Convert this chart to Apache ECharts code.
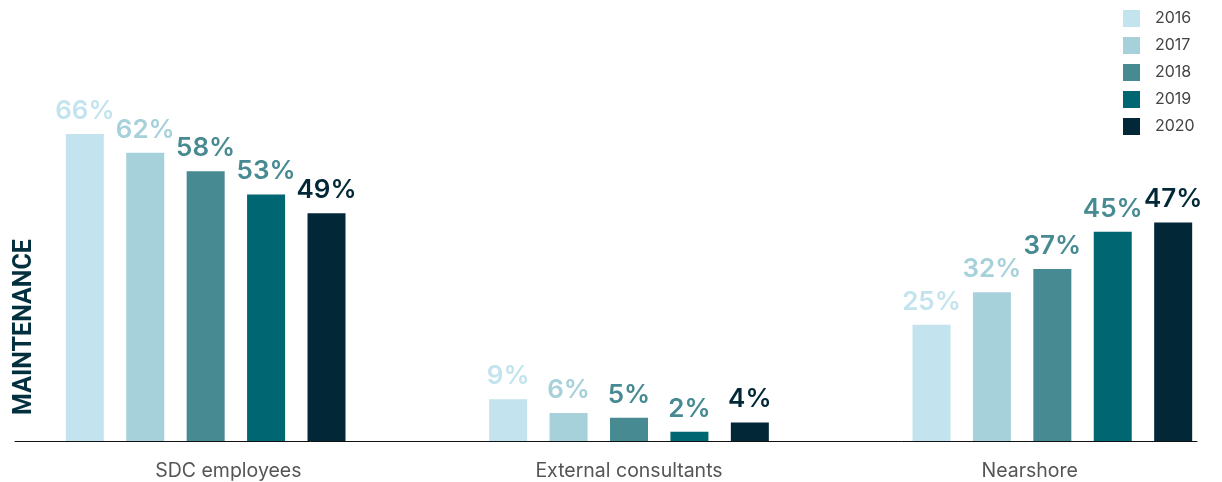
<!DOCTYPE html>
<html>
<head>
<meta charset="utf-8">
<script src="https://cdn.jsdelivr.net/npm/echarts@6/dist/echarts.min.js"></script>
<style>
  html, body { margin: 0; padding: 0; background: #fff; }
  #chart { width: 1222px; height: 482px; }
</style>
</head>
<body>
<div id="chart"></div>
<script>
// categories and yearly shares (%)
var categories = ['SDC employees', 'External consultants', 'Nearshore'];
var years = ['2016', '2017', '2018', '2019', '2020'];
var v2016 = [66, 9, 25];
var v2017 = [62, 6, 32];
var v2018 = [58, 5, 37];
var v2019 = [53, 2, 45];
var v2020 = [49, 4, 47];

var values = [v2016, v2017, v2018, v2019, v2020];
var barColors = ['#c3e4ee', '#a7d1da', '#478a92', '#006672', '#022838'];
var labelColors = ['#c3e4ee', '#a7d1da', '#478a92', '#478a92', '#022838'];

var font = 'Inter';

var series = [];
for (var i = 0; i < years.length; i++) {
    series.push({
        name: years[i],
        type: 'bar',
        xAxisIndex: 0,
        yAxisIndex: 0,
        data: values[i],
        barWidth: 38,
        barGap: '59%',
        itemStyle: { color: barColors[i] },
        label: {
            show: true,
            position: 'top',
            distance: 10,
            formatter: '{c}%',
            color: labelColors[i],
            fontFamily: font,
            fontWeight: 600,
            fontSize: 26
        }
    });
}

var myChart = echarts.init(document.getElementById('chart'));
myChart.setOption({
    animation: false,
    backgroundColor: '#fff',
    legend: {
        orient: 'vertical',
        left: 1118,
        top: 5,
        icon: 'rect',
        itemWidth: 17,
        itemHeight: 17,
        itemGap: 10,
        data: years,
        textStyle: { fontFamily: font, fontSize: 16, color: '#444', padding: [0, 0, 0, 10] }
    },
    grid: [
        // bars
        { left: -6, width: 1270, top: 115.5, bottom: 41, outerBoundsMode: 'none' },
        // category labels
        { left: 28, width: 1202, top: 115.5, bottom: 41, outerBoundsMode: 'none' },
        // axis line + axis title
        { left: 15, right: 25, top: 213, bottom: 41, outerBoundsMode: 'none' }
    ],
    xAxis: [
        {
            gridIndex: 0, type: 'category', data: categories,
            axisLine: { show: false }, axisTick: { show: false }, axisLabel: { show: false }
        },
        {
            gridIndex: 1, type: 'category', data: categories,
            axisLine: { show: false }, axisTick: { show: false },
            axisLabel: { margin: 20, fontFamily: font, fontSize: 19.5, color: '#555' }
        },
        {
            gridIndex: 2, type: 'value', min: 0, max: 1,
            axisLine: { show: true, lineStyle: { color: '#111', width: 1 } },
            axisTick: { show: false }, axisLabel: { show: false }, splitLine: { show: false }
        }
    ],
    yAxis: [
        { gridIndex: 0, type: 'value', min: 0, max: 70, show: false },
        { gridIndex: 1, type: 'value', min: 0, max: 70, show: false },
        {
            gridIndex: 2, type: 'value', min: 0, max: 1,
            name: 'MAINTENANCE',
            nameLocation: 'middle',
            nameRotate: 90,
            nameGap: -22,
            nameTextStyle: { fontFamily: 'Roboto', fontWeight: 'bold', fontSize: 25, color: '#03303f' },
            axisLine: { show: false }, axisTick: { show: false }, axisLabel: { show: false }, splitLine: { show: false }
        }
    ],
    series: series
});
</script>
</body>
</html>
